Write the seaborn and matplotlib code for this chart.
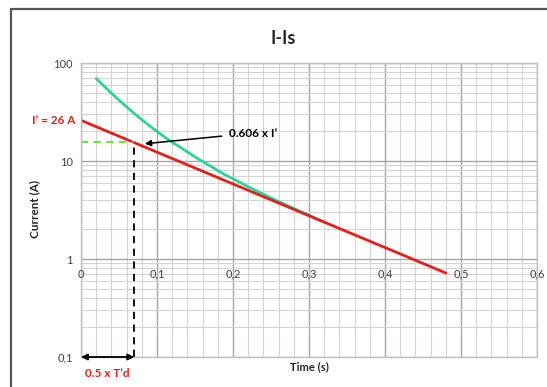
import numpy as np
import pandas as pd
import matplotlib
matplotlib.use("Agg")
import matplotlib.pyplot as plt
import matplotlib.ticker as mticker
from matplotlib.patches import Rectangle
import seaborn as sns

# Transient current (red line, straight on the log axis)
transient_t = [0.0, 0.48]
transient_i = [26.0, 0.72]

# Total current including the subtransient part (green curve)
total_t = [0.02, 0.03, 0.04, 0.05, 0.06, 0.07, 0.08, 0.09, 0.10, 0.11,
           0.12, 0.13, 0.14, 0.15, 0.16, 0.17, 0.18, 0.19, 0.20, 0.22,
           0.24, 0.26, 0.28, 0.30, 0.32]
total_i = [69.5, 58.4, 49.3, 41.8, 35.7, 30.6, 26.4, 22.9, 20.0, 17.6,
           15.5, 13.9, 12.4, 11.0, 9.9, 8.9, 8.0, 7.2, 6.6, 5.46,
           4.58, 3.86, 3.28, 2.79, 2.38]

i_prime = 26.0
ratio = 0.606
half_td = 0.07

x_ticks = [0.0, 0.1, 0.2, 0.3, 0.4, 0.5, 0.6]
x_tick_labels = ["0", "0,1", "0,2", "0,3", "0,4", "0,5", "0,6"]
y_ticks = [0.1, 1, 10, 100]
y_tick_labels = ["0,1", "1", "10", "100"]

RED = "#E3201C"
GREEN = "#2DD39D"
LIME = "#66DD33"
TXT = "#404040"

sns.set_style("white")
plt.rcParams["font.family"] = ["Lato", "DejaVu Sans"]

W, H = 547, 387
fig = plt.figure(figsize=(W / 100, H / 100), dpi=100)
ax = fig.add_axes([81 / W, 1 - 357 / H, (537 - 81) / W, (357 - 63) / H])

# outer chart frame
fig.patches.append(Rectangle((11 / W, -0.05), 1.2, 1 - 9 / H + 0.05,
                             transform=fig.transFigure, fill=False,
                             edgecolor="#555555", linewidth=1.6))

df_total = pd.DataFrame({"t": total_t, "i": total_i})
df_trans = pd.DataFrame({"t": transient_t, "i": transient_i})

ax.set_yscale("log")
ax.set_xlim(0, 0.6)
ax.set_ylim(0.1, 100)

# grid
ax.xaxis.set_major_locator(mticker.FixedLocator(x_ticks))
ax.xaxis.set_minor_locator(mticker.MultipleLocator(0.02))
ax.yaxis.set_major_locator(mticker.FixedLocator(y_ticks))
ax.yaxis.set_minor_locator(mticker.LogLocator(base=10, subs=range(2, 10)))
ax.yaxis.set_minor_formatter(mticker.NullFormatter())
ax.grid(which="major", color="#A6A6A6", linewidth=1.0)
ax.grid(which="minor", color="#D4D4D4", linewidth=0.8)
ax.set_axisbelow(True)
for s in ax.spines.values():
    s.set_color("#BFBFBF")
    s.set_linewidth(1.0)
ax.tick_params(which="both", length=0)
ax.set_xticklabels([])
ax.set_yticklabels(y_tick_labels, fontsize=8, color=TXT)
ax.tick_params(axis="y", pad=6)

sns.lineplot(data=df_total, x="t", y="i", ax=ax, color=GREEN, linewidth=2.0)
sns.lineplot(data=df_trans, x="t", y="i", ax=ax, color=RED, linewidth=2.0)
ax.set_xlabel("")
ax.set_ylabel("")

# x tick labels sit on the I = 1 line
for xv, lab in zip(x_ticks, x_tick_labels):
    ax.annotate(lab, xy=(xv, 1), xytext=(0, -11), textcoords="offset points",
                ha="center", va="center", fontsize=8, color=TXT)

# marker at 0.5 x T'd
level = ratio * i_prime
ax.plot([0, half_td], [level, level], color=LIME, linestyle=(0, (4, 3)),
        linewidth=1.3)
ax.plot([half_td, half_td], [0.1, level], color="black",
        linestyle=(0, (4, 3)), linewidth=1.3, clip_on=False)
ax.annotate("", xy=(0, 0.1), xytext=(half_td, 0.1),
            arrowprops=dict(arrowstyle="<|-|>", color="black", lw=1.3,
                            shrinkA=0, shrinkB=0, mutation_scale=9),
            annotation_clip=False)
ax.annotate("0.5 x T\u2019d", xy=(half_td / 2, 0.1), xytext=(0, -12),
            textcoords="offset points", ha="center", va="center",
            fontsize=8.5, fontweight="bold", color=RED, annotation_clip=False)

ax.annotate("0.606 x I\u2019", xy=(0.084, 15.0), xytext=(0.195, 19.3),
            ha="left", va="center", fontsize=8.5, fontweight="bold",
            color="black",
            arrowprops=dict(arrowstyle="-|>", color="black", lw=1.1,
                            shrinkA=3, shrinkB=0, mutation_scale=9))

ax.annotate("I\u2019 = 26 A", xy=(0, i_prime), xytext=(-4, 0),
            textcoords="offset points", ha="right", va="center",
            fontsize=8.5, fontweight="bold", color=RED, annotation_clip=False)

fig.text(283 / W, 1 - 38 / H, "I-Is", ha="center", va="center",
         fontsize=13, fontweight="bold", color="#262626")
fig.text(309 / W, 1 - 367 / H, "Time (s)", ha="center", va="center",
         fontsize=8, fontweight="bold", color="#262626")
fig.text(35 / W, 1 - 209 / H, "Current (A)", ha="center", va="center",
         rotation=90, fontsize=8.5, fontweight="bold", color="#262626")

fig.savefig("out.png", dpi=100)
